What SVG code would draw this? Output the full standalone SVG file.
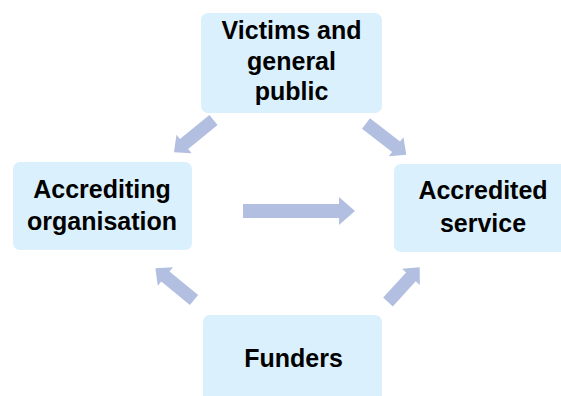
<svg xmlns="http://www.w3.org/2000/svg" width="561" height="396" viewBox="0 0 561 396">
<style>
.box{fill:#DAF0FC}
.arr{fill:#B2BFE1}
text{font-family:"Liberation Sans",Arial,sans-serif;font-weight:bold;font-size:25px;fill:#000;text-anchor:middle}
</style>
<rect width="561" height="396" fill="#fff"/>
<g id="connectors">
<polygon class="arr" points="0,-6.5 38,-6.5 38,-12 51,0 38,12 38,6.5 0,6.5" transform="translate(213.5,120) rotate(140.8)"/>
<polygon class="arr" points="0,-6.5 38,-6.5 38,-12 51,0 38,12 38,6.5 0,6.5" transform="translate(366,123.5) rotate(37.7)"/>
<polygon class="arr" points="0,-6.5 37,-6.5 37,-12 50,0 37,12 37,6.5 0,6.5" transform="translate(194,300) rotate(219.4)"/>
<polygon class="arr" points="0,-6.5 34,-6.5 34,-12 47,0 34,12 34,6.5 0,6.5" transform="translate(388,302) rotate(-47.6)"/>
<polygon class="arr" points="243,204 339,204 339,197 355,211 339,225 339,218 243,218"/>
</g>
<g id="victims">
<rect class="box" x="201" y="13" width="181" height="100" rx="7"/>
<text x="291.5" y="39">Victims and</text>
<text x="291.5" y="70">general</text>
<text x="291.5" y="100">public</text>
</g>
<g id="accrediting">
<rect class="box" x="13" y="162" width="179" height="88" rx="7"/>
<text x="102" y="198">Accrediting</text>
<text x="102" y="230">organisation</text>
</g>
<g id="accredited">
<rect class="box" x="394" y="164" width="180" height="88" rx="7"/>
<text x="483" y="199">Accredited</text>
<text x="483" y="232">service</text>
</g>
<g id="funders">
<rect class="box" x="203" y="315" width="179" height="100" rx="7"/>
<text x="293.5" y="367">Funders</text>
</g>
</svg>
